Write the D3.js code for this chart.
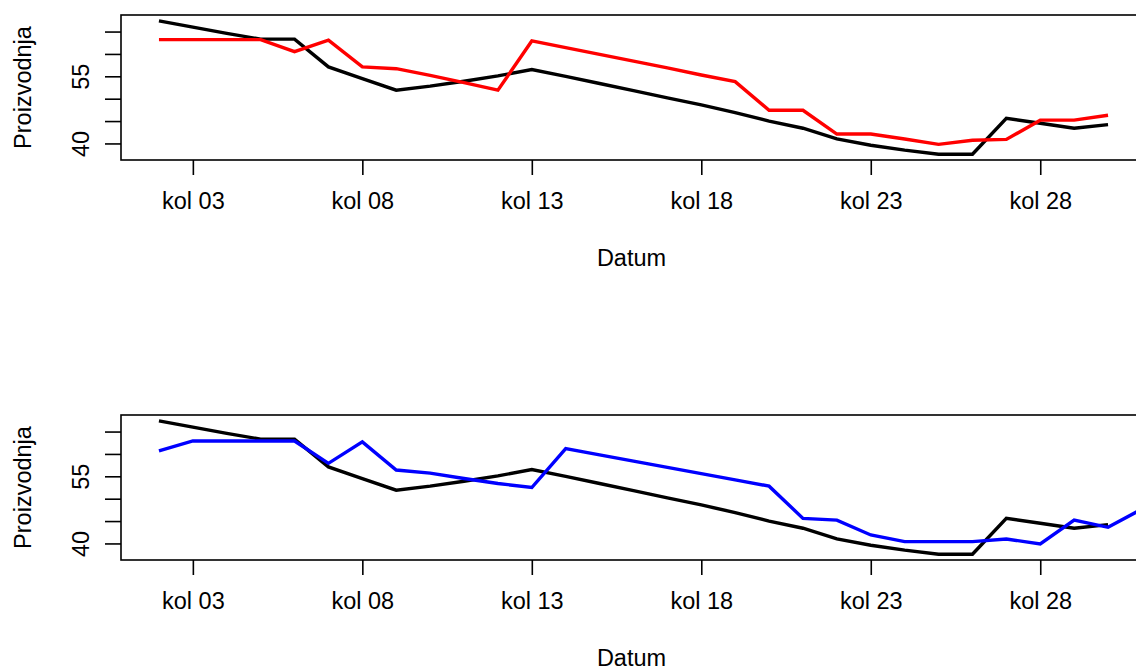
<!DOCTYPE html>
<html>
<head>
<meta charset="utf-8">
<script src="https://cdnjs.cloudflare.com/ajax/libs/d3/7.8.5/d3.min.js"></script>
<style>
  body { margin: 0; background: #fff; }
  text { font-family: "Liberation Sans", Arial, sans-serif; fill: #000; }
</style>
</head>
<body>
<svg id="chart" width="1136" height="668"></svg>
<script>
"use strict";

// dani u kolovozu
var days = [2, 3, 4, 5, 6, 7, 8, 9, 10, 11, 12, 13, 14, 15, 16, 17, 18, 19, 20, 21, 22, 23, 24, 25, 26, 27, 28, 29, 30]

// stvarna proizvodnja (crna linija, ista na oba grafa)
var actual = [67.4, 66.0, 64.6, 63.3, 63.3, 57.1, 54.5, 51.9, 52.8, 53.9, 55.1, 56.5, 55.0, 53.4, 51.8, 50.2, 48.6, 46.9,
  45.0, 43.4, 41.0, 39.6, 38.5, 37.6, 37.6, 45.6, 44.5, 43.4, 44.2]

// prva prognoza (crvena)
var redSeries = [63.2, 63.2, 63.2, 63.2, 60.5, 63.1, 57.1, 56.7, 55.2, 53.6, 51.9, 62.9, 61.4, 59.9, 58.4, 56.9, 55.3, 53.8,
  47.4, 47.4, 42.1, 42.1, 41.0, 39.8, 40.7, 40.9, 45.2, 45.2, 46.3]

// druga prognoza (plava) ide jedan dan dalje
var blueDays = [2, 3, 4, 5, 6, 7, 8, 9, 10, 11, 12, 13, 14, 15, 16, 17, 18, 19, 20, 21, 22, 23, 24, 25, 26, 27, 28, 29, 30, 31]
var blueSeries = [60.7, 62.9, 62.9, 62.9, 62.9, 57.9, 62.7, 56.4, 55.7, 54.5, 53.4, 52.5, 61.2, 59.8, 58.4, 57.0, 55.6, 54.2,
  52.8, 45.6, 45.2, 41.9, 40.4, 40.4, 40.4, 41.0, 39.9, 45.2, 43.6, 47.7]

var xTicks = [3, 8, 13, 18, 23, 28]
var yTicks = [40, 45, 50, 55, 60, 65]
var yLabeled = [40, 55]

var fontSize = "23.5px"

var svg = d3.select("#chart")

// R style: range of the data plus 4% on each side
var xPad = (d3.max(days) - d3.min(days)) * 0.04
var x = d3.scaleLinear()
  .domain([d3.min(days) - xPad, d3.max(days) + xPad])
  .range([121, 1146])

function panel(top, idx, other, otherDays, otherColor) {
  var bottom = top + 145
  var y = d3.scaleLinear().domain([36.3, 68.7]).range([bottom, top])

  var g = svg.append("g")

  g.append("clipPath").attr("id", "clip" + idx)
    .append("rect")
    .attr("x", x.range()[0]).attr("y", top)
    .attr("width", x.range()[1] - x.range()[0]).attr("height", bottom - top)

  var line = d3.line()
    .x(function (d) { return x(d[0]) })
    .y(function (d) { return y(d[1]) })

  var lines = g.append("g").attr("clip-path", "url(#clip" + idx + ")")

  lines.append("path")
    .datum(d3.zip(days, actual))
    .attr("d", line)
    .attr("fill", "none")
    .attr("stroke", "#000")
    .attr("stroke-width", 3.4)

  lines.append("path")
    .datum(d3.zip(otherDays, other))
    .attr("d", line)
    .attr("fill", "none")
    .attr("stroke", otherColor)
    .attr("stroke-width", 3.4)

  g.append("rect")
    .attr("x", x.range()[0]).attr("y", top)
    .attr("width", x.range()[1] - x.range()[0]).attr("height", bottom - top)
    .attr("fill", "none")
    .attr("stroke", "#000")
    .attr("stroke-width", 1.6)

  var xAxis = g.append("g")
    .attr("transform", "translate(0," + bottom + ")")
    .call(d3.axisBottom(x)
      .tickValues(xTicks)
      .tickSize(15)
      .tickSizeOuter(0)
      .tickFormat(function (d) { return "kol " + d3.format("02d")(d) }))
  xAxis.select(".domain").remove()
  xAxis.selectAll("line").attr("stroke", "#000").attr("stroke-width", 1.6)
  xAxis.selectAll("text")
    .attr("y", 49).attr("dy", 0)
    .style("font-size", fontSize)

  var yAxis = g.append("g")
    .attr("transform", "translate(" + x.range()[0] + ",0)")
    .call(d3.axisLeft(y)
      .tickValues(yTicks)
      .tickSize(16)
      .tickSizeOuter(0)
      .tickFormat(function (d) { return yLabeled.indexOf(d) >= 0 ? d : "" }))
  yAxis.select(".domain").remove()
  yAxis.selectAll("line").attr("stroke", "#000").attr("stroke-width", 1.6)
  yAxis.selectAll("text")
    .attr("transform", "rotate(-90)")
    .attr("x", 0).attr("y", -32).attr("dy", 0)
    .attr("text-anchor", "middle")
    .style("font-size", fontSize)

  g.append("text")
    .attr("x", (x.range()[0] + x.range()[1]) / 2 - 2)
    .attr("y", bottom + 106)
    .attr("text-anchor", "middle")
    .style("font-size", fontSize)
    .text("Datum")

  g.append("text")
    .attr("transform", "translate(31," + (top + bottom) / 2 + ") rotate(-90)")
    .attr("text-anchor", "middle")
    .style("font-size", fontSize)
    .text("Proizvodnja")
}

panel(15, 1, redSeries, days, "#ff0000")
panel(415, 2, blueSeries, blueDays, "#0000ff")
</script>
</body>
</html>
